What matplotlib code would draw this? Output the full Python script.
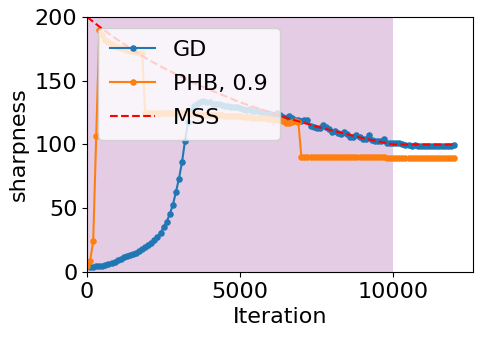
import numpy as np
import matplotlib
matplotlib.use('Agg')
import matplotlib.pyplot as plt

#------------- data -------------#
iters = np.arange(0, 12001, 100)  ## iteration of each logged point

gd_sharpness = [
    4.5, 4.3, 4.3, 4.4, 4.5, 4.8, 5.3, 6.0, 7.0, 8.0,            # 0 - 900
    9.5, 10.5, 11.5, 12.5, 13.3, 14.3, 15.3, 16.5, 18.0, 20.0,   # 1000 - 1900
    21.5, 23.0, 25.0, 27.7, 31.0, 35.0, 39.5, 45.3, 52.5, 62.5,  # 2000 - 2900
    73.0, 86.0, 103.0, 118.0, 126.0, 130.0, 132.0, 133.0, 134.0, 133.5,  # 3000 - 3900
    133.0, 132.0, 131.5, 132.0, 131.0, 130.0, 130.5, 129.5, 129.0, 129.5,  # 4000 - 4900
    128.5, 128.0, 127.0, 127.5, 126.5, 126.0, 126.5, 125.0, 124.5, 125.0,  # 5000 - 5900
    124.0, 123.0, 124.5, 123.0, 121.5, 121.0, 122.5, 121.0, 119.5, 119.0,  # 6000 - 6900
    118.5, 119.5, 119.0, 114.5, 114.0, 113.0, 113.0, 115.0, 114.0, 112.0,  # 7000 - 7900
    110.0, 110.5, 109.0, 108.5, 110.0, 108.5, 106.0, 106.0, 107.5, 105.5,  # 8000 - 8900
    104.5, 104.0, 107.5, 103.5, 103.0, 103.0, 102.5, 104.5, 101.5, 101.0,  # 9000 - 9900
    101.5, 101.5, 101.0, 100.5, 99.5, 99.5, 99.0, 99.5, 99.0, 98.8,        # 10000 - 10900
    99.0, 98.8, 99.0, 98.8, 99.0, 99.0, 98.8, 99.0, 99.0, 99.2,            # 11000 - 11900
    99.5,                                                                  # 12000
]

phb_sharpness = [
    5.0, 8.5, 24.5, 107.0, 190.0, 186.0, 182.0, 180.0, 178.5, 177.5,       # 0 - 900
    176.5, 175.5, 175.0, 174.0, 173.5, 173.0, 172.5, 172.0, 171.5, 125.0,  # 1000 - 1900
    124.5, 124.5, 125.0, 124.5, 125.0, 125.0, 124.5, 125.0, 125.0, 124.5,  # 2000 - 2900
    125.0, 124.5, 124.5, 124.5, 124.0, 124.0, 124.0, 123.5, 123.5, 123.5,  # 3000 - 3900
    123.5, 123.0, 123.0, 123.0, 123.0, 122.5, 122.5, 122.5, 122.0, 122.0,  # 4000 - 4900
    122.0, 121.5, 121.5, 121.5, 121.0, 121.0, 121.0, 120.5, 120.5, 120.0,  # 5000 - 5900
    120.0, 119.5, 119.5, 119.0, 118.5, 117.0, 116.5, 118.0, 118.5, 118.0,  # 6000 - 6900
    90.5, 90.5, 90.5, 90.4, 90.4, 90.4, 90.3, 90.3, 90.3, 90.3,            # 7000 - 7900
    90.2, 90.2, 90.2, 90.2, 90.1, 90.1, 90.1, 90.1, 90.0, 90.0,            # 8000 - 8900
    90.0, 90.0, 90.0, 89.9, 89.9, 89.9, 89.9, 89.9, 89.8, 89.8,            # 9000 - 9900
    89.8, 89.8, 89.8, 89.8, 89.8, 89.7, 89.7, 89.7, 89.7, 89.7,            # 10000 - 10900
    89.7, 89.7, 89.7, 89.6, 89.6, 89.6, 89.6, 89.6, 89.6, 89.6,            # 11000 - 11900
    89.6,                                                                  # 12000
]

mss_iters = [0, 500, 1000, 1500, 2000, 2500, 3000, 3500, 4000, 4500, 5000,
             5500, 6000, 6500, 7000, 7500, 8000, 8500, 9000, 9500, 10000,
             10500, 11000, 11500, 12000]
mss_values = [200.0, 190.5, 182.0, 174.0, 166.5, 160.0, 154.0, 148.0, 143.0,
              138.0, 133.0, 129.0, 125.0, 121.0, 117.5, 114.0, 111.0, 108.0,
              105.0, 102.5, 100.0, 100.0, 100.0, 100.0, 100.0]

SHADE_END = 10000

#------------- plot -------------#
fig = plt.figure(figsize=(4.81, 3.38), dpi=100)
ax = fig.add_axes([0.181, 0.195, 0.802, 0.755])

ax.axvspan(0, SHADE_END, color='purple', alpha=0.2, lw=0)

ax.plot(iters, gd_sharpness, marker='o', markersize=3.7, lw=1.5, color='C0', label='GD')
ax.plot(iters, phb_sharpness, marker='o', markersize=3.7, lw=1.5, color='C1', label='PHB, 0.9')
ax.plot(mss_iters, mss_values, '--', color='red', lw=1.5, label='MSS')

ax.set_xlim(0, 12600)
ax.set_ylim(0, 200)
ax.set_xticks([0, 5000, 10000])
ax.set_yticks([0, 50, 100, 150, 200])
ax.tick_params(labelsize=16)
ax.set_xlabel("Iteration", fontsize=16)
ax.set_ylabel("sharpness", fontsize=16)
ax.legend(loc='upper left', fontsize=16, labelspacing=0.62, borderpad=0.55,
          handlelength=2.0, handletextpad=0.8)

fig.savefig('out.png', dpi=100)
